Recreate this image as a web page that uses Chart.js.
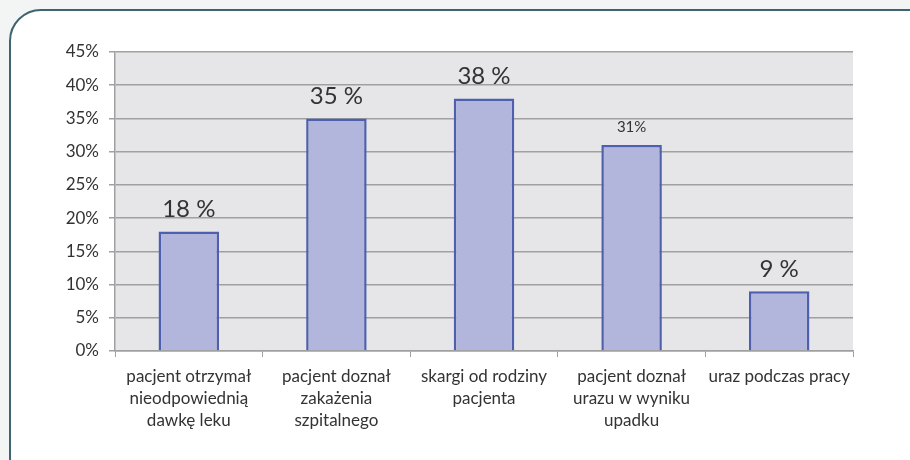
<!DOCTYPE html>
<html>
<head>
<meta charset="utf-8">
<script src="https://cdn.jsdelivr.net/npm/chart.js@4/dist/chart.umd.min.js"></script>
<style>
    html, body { margin: 0; padding: 0; background: #f3f4f4; }
    #wrap { position: relative; width: 910px; height: 460px; overflow: hidden; }
    #frame {
        position: absolute; left: 9px; top: 9px; width: 940px; height: 480px;
        background: #ffffff; border: 2px solid #3d6470; border-radius: 32px;
        box-sizing: border-box;
    }
    #chart { position: absolute; left: 0; top: 0; }
</style>
</head>
<body>
<div id="wrap">
    <div id="frame"></div>
    <canvas id="chart" width="910" height="460"></canvas>
</div>
<script>
    // Chart data
    const categories = [
        ['pacjent otrzymał', 'nieodpowiednią', 'dawkę leku'],
        ['pacjent doznał', 'zakażenia', 'szpitalnego'],
        ['skargi od rodziny', 'pacjenta'],
        ['pacjent doznał', 'urazu w wyniku', 'upadku'],
        ['uraz podczas pracy']
    ];
    const values = [18, 35, 38, 31, 9];
    const valueLabels = ['18 %', '35 %', '38 %', '31%', '9 %'];
    const labelSizes = [24, 24, 24, 15, 24];

    const fontFamily = 'Lato, "Open Sans", sans-serif';

    // Gray plot background
    const plotBackground = {
        id: 'plotBackground',
        beforeDraw(chart) {
            const { ctx, chartArea } = chart;
            ctx.save();
            ctx.fillStyle = '#e6e6e8';
            ctx.fillRect(chartArea.left, chartArea.top, chartArea.right - chartArea.left, chartArea.bottom - chartArea.top);
            ctx.restore();
        }
    };

    // Value labels above the bars
    const valueLabelPlugin = {
        id: 'valueLabels',
        afterDatasetsDraw(chart) {
            const { ctx } = chart;
            const meta = chart.getDatasetMeta(0);
            ctx.save();
            ctx.fillStyle = '#333333';
            ctx.textAlign = 'center';
            ctx.textBaseline = 'bottom';
            meta.data.forEach((bar, i) => {
                ctx.font = labelSizes[i] + 'px ' + fontFamily;
                const gap = labelSizes[i] > 18 ? 10 : 10;
                ctx.fillText(valueLabels[i], bar.x, bar.y - gap);
            });
            ctx.restore();
        }
    };

    new Chart(document.getElementById('chart').getContext('2d'), {
        type: 'bar',
        data: {
            labels: categories,
            datasets: [{
                data: values,
                backgroundColor: '#b3b6dc',
                borderColor: '#4e5fae',
                borderWidth: 2.5,
                categoryPercentage: 1,
                barPercentage: 0.41
            }]
        },
        options: {
            responsive: false,
            animation: false,
            layout: { padding: { left: 0, right: 57, top: 52, bottom: 0 } },
            plugins: {
                legend: { display: false },
                tooltip: { enabled: false }
            },
            scales: {
                x: {
                    grid: {
                        offset: true,
                        drawOnChartArea: false,
                        drawTicks: true,
                        tickLength: 6,
                        color: '#a0a0a0'
                    },
                    border: { color: '#a0a0a0', width: 1.5 },
                    ticks: {
                        color: '#333333',
                        font: { family: fontFamily, size: 17, lineHeight: 1.3 },
                        padding: 8,
                        maxRotation: 0,
                        autoSkip: false
                    },
                    afterFit(scale) { scale.height = 109; }
                },
                y: {
                    min: 0,
                    max: 45,
                    grid: {
                        color: '#a0a0a0',
                        lineWidth: 1.5,
                        tickLength: 6
                    },
                    border: { color: '#a0a0a0', width: 1.5 },
                    ticks: {
                        stepSize: 5,
                        color: '#333333',
                        font: { family: fontFamily, size: 17 },
                        padding: 10,
                        callback: v => v + '%'
                    },
                    afterFit(scale) { scale.width = 115; }
                }
            }
        },
        plugins: [plotBackground, valueLabelPlugin]
    });
</script>
</body>
</html>
